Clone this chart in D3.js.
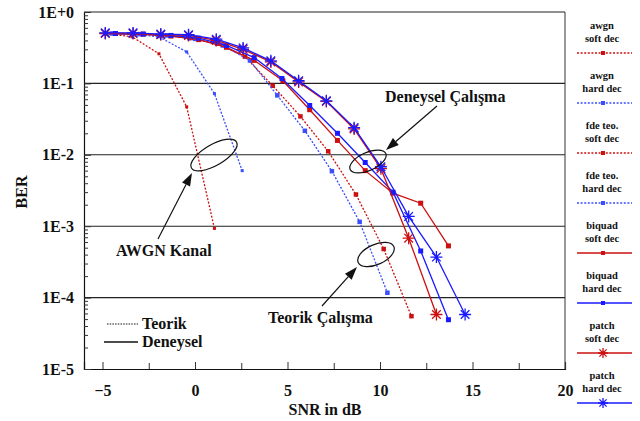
<!DOCTYPE html>
<html><head><meta charset="utf-8">
<script src="https://cdn.jsdelivr.net/npm/d3@7"></script>
<style>
body{margin:0;background:#fff}
svg text{font-family:"Liberation Serif","DejaVu Serif",serif !important;font-weight:bold;fill:#111}
</style>
</head><body><svg id="c" width="640" height="421"></svg>
<script>
// ---- data ----
const awgnSoftX = [-4.85, -3.4, -1.95, -0.45, 1.05];
const awgnSoftY = [0.5, 0.45, 0.26, 0.047, 0.00093];
const awgnHardX = [-4.85, -3.4, -1.95, -0.45, 1.05, 2.55];
const awgnHardY = [0.5, 0.49, 0.45, 0.276, 0.072, 0.006];
const fdeSoftX = [-4.8, -3.3, -1.8, -0.3, 1.2, 2.7, 4.2, 5.7, 7.2, 8.7, 10.2, 11.7];
const fdeSoftY = [0.5, 0.49, 0.47, 0.43, 0.36, 0.237, 0.0928, 0.0345, 0.0112, 0.00278, 0.000479, 0.0000549];
const fdeHardX = [-4.5, -3.0, -1.5, 0.0, 1.5, 2.97, 4.45, 5.94, 7.4, 8.9, 10.4];
const fdeHardY = [0.5, 0.49, 0.47, 0.42, 0.34, 0.209, 0.068, 0.0217, 0.0059, 0.00115, 0.000117];
const biquadSoftX = [-4.3, -2.8, -1.3, 0.2, 1.7, 3.2, 4.75, 6.2, 7.7, 9.2, 10.7, 12.2, 13.7];
const biquadSoftY = [0.5, 0.49, 0.46, 0.41, 0.32, 0.21, 0.109, 0.0428, 0.0159, 0.006, 0.0029, 0.0021, 0.00053];
const biquadHardX = [-4.3, -2.8, -1.3, 0.2, 1.7, 3.2, 4.7, 6.2, 7.7, 9.2, 10.7, 12.2, 13.7];
const biquadHardY = [0.5, 0.49, 0.47, 0.43, 0.34, 0.23, 0.117, 0.049, 0.02, 0.0078, 0.003, 0.00045, 0.000049];
const patchSoftX = [-4.85, -3.35, -1.85, -0.35, 1.15, 2.6, 4.1, 5.6, 7.1, 8.6, 10.05, 11.55, 13.05];
const patchSoftY = [0.5, 0.5, 0.48, 0.47, 0.40, 0.30, 0.2, 0.105, 0.056, 0.023, 0.0064, 0.00068, 0.000058];
const patchHardX = [-4.85, -3.35, -1.85, -0.35, 1.15, 2.6, 4.1, 5.6, 7.1, 8.6, 10.05, 11.55, 13.05, 14.6];
const patchHardY = [0.51, 0.51, 0.49, 0.48, 0.416, 0.314, 0.207, 0.109, 0.057, 0.024, 0.0068, 0.00137, 0.00037, 0.000058];

const xTicks = [-5, 0, 5, 10, 15, 20];
const yTicks = [1, 0.1, 0.01, 0.001, 0.0001, 0.00001];
const yTickLabels = ["1E+0", "1E-1", "1E-2", "1E-3", "1E-4", "1E-5"];
const legendNames = [["awgn","soft dec"],["awgn","hard dec"],["fde teo.","soft dec"],["fde teo.","hard dec"],
                     ["biquad","soft dec"],["biquad","hard dec"],["patch","soft dec"],["patch","hard dec"]];

const FONT = "'Liberation Serif','DejaVu Serif',serif";
const RED = "#cc1010", BLUE = "#1a1aff", LBLUE = "#3a4dff";
const series = [
  {x: awgnSoftX, y: awgnSoftY, color: RED, dash: "2,1.6", marker: "sq", ms: 3},
  {x: awgnHardX, y: awgnHardY, color: LBLUE, dash: "2,1.6", marker: "sq", ms: 3},
  {x: fdeSoftX, y: fdeSoftY, color: RED, dash: "2,1.6", marker: "sq", ms: 4.5},
  {x: fdeHardX, y: fdeHardY, color: LBLUE, dash: "2,1.6", marker: "sq", ms: 4.5},
  {x: biquadSoftX, y: biquadSoftY, color: RED, dash: null, marker: "sq", ms: 5},
  {x: biquadHardX, y: biquadHardY, color: BLUE, dash: null, marker: "sq", ms: 5},
  {x: patchSoftX, y: patchSoftY, color: RED, dash: null, marker: "star", ms: 6},
  {x: patchHardX, y: patchHardY, color: BLUE, dash: null, marker: "star", ms: 6}
];

const svg = d3.select("#c");
const x = d3.scaleLinear().domain([-6, 20]).range([84, 565]);
const y = d3.scaleLog().domain([1e-5, 1]).range([369, 12]);

// gridlines & frame
svg.append("g").selectAll("line").data(yTicks.slice(0, 5)).join("line")
  .attr("x1", x(-6)).attr("x2", x(20)).attr("y1", d => y(d)).attr("y2", d => y(d))
  .attr("stroke", "#222").attr("stroke-width", 1.1);
svg.append("line").attr("x1", x(20)).attr("x2", x(20)).attr("y1", y(1)).attr("y2", y(1e-5))
  .attr("stroke", "#333").attr("stroke-width", 1);

// axes
const xAxis = svg.append("g").attr("transform", `translate(0,${y(1e-5)})`)
  .call(d3.axisBottom(x).tickValues(xTicks).tickSize(-7).tickPadding(16).tickFormat(d3.format("d")));
svg.append("g").attr("transform", `translate(0,${y(1e-5)})`)
  .call(d3.axisBottom(x).tickValues([-2.5, 2.5, 7.5, 12.5, 17.5]).tickSize(-6).tickFormat(""))
  .select(".domain").remove();
const yAxis = svg.append("g").attr("transform", `translate(${x(-6)},0)`)
  .call(d3.axisLeft(y).tickValues(yTicks).tickSize(-7).tickPadding(10).tickFormat((d, i) => yTickLabels[i]));
const minor = [];
for (let e = -5; e < 0; e++) for (let m = 2; m <= 9; m++) minor.push(m * Math.pow(10, e));
svg.append("g").attr("transform", `translate(${x(-6)},0)`)
  .call(d3.axisLeft(y).tickValues(minor).tickSize(-4).tickFormat(""))
  .select(".domain").remove();
svg.selectAll("g").attr("font-family", FONT);
svg.selectAll(".domain").attr("stroke", "#111").attr("stroke-width", 1.2);
svg.selectAll(".tick line").attr("stroke", "#333");
xAxis.selectAll("text").attr("font-size", 16).attr("font-weight", "bold").attr("fill", "#111");
yAxis.selectAll("text").attr("font-size", 16).attr("font-weight", "bold").attr("fill", "#111");

function label(xp, yp, str, size, anchor) {
  return svg.append("text").attr("x", xp).attr("y", yp).attr("font-family", FONT).attr("font-weight", "bold")
    .attr("font-size", size).attr("text-anchor", anchor || "start").text(str);
}
label(325, 415, "SNR in dB", 16, "middle");
svg.append("text").attr("transform", "translate(27,192) rotate(-90)").attr("text-anchor", "middle")
  .attr("font-family", FONT).attr("font-weight", "bold").attr("font-size", 16).text("BER");

// series
const line = d3.line().x(d => x(d[0])).y(d => y(d[1]));
function drawMarker(g, type, cx, cy, s, color) {
  if (type === "sq") {
    g.append("rect").attr("x", cx - s / 2).attr("y", cy - s / 2).attr("width", s).attr("height", s).attr("fill", color);
  } else {
    const d = s * 0.72;
    g.append("path").attr("d", `M${cx},${cy - s}L${cx},${cy + s}M${cx - s},${cy}L${cx + s},${cy}M${cx - d},${cy - d}L${cx + d},${cy + d}M${cx - d},${cy + d}L${cx + d},${cy - d}`)
      .attr("stroke", color).attr("stroke-width", 1.3).attr("fill", "none");
  }
}
const plot = svg.append("g");
series.forEach(s => {
  const pts = s.x.map((v, i) => [v, s.y[i]]);
  const g = plot.append("g");
  g.append("path").attr("d", line(pts)).attr("fill", "none").attr("stroke", s.color)
    .attr("stroke-width", 1.3).attr("stroke-dasharray", s.dash);
  pts.forEach(p => drawMarker(g, s.marker, x(p[0]), y(p[1]), s.ms, s.color));
});

// annotations
function arrow(x1, y1, x2, y2) {
  const ang = Math.atan2(y2 - y1, x2 - x1), L = 13, W = 4.5;
  const bx = x2 - L * Math.cos(ang), by = y2 - L * Math.sin(ang);
  svg.append("line").attr("x1", x1).attr("y1", y1).attr("x2", bx).attr("y2", by).attr("stroke", "#111").attr("stroke-width", 1.2);
  const px = -Math.sin(ang) * W, py = Math.cos(ang) * W;
  svg.append("path").attr("d", `M${x2},${y2}L${bx + px},${by + py}L${bx - px},${by - py}Z`).attr("fill", "#111");
}
function ell(cx, cy, rx, ry, rot) {
  svg.append("ellipse").attr("cx", cx).attr("cy", cy).attr("rx", rx).attr("ry", ry)
    .attr("transform", `rotate(${rot},${cx},${cy})`).attr("fill", "none").attr("stroke", "#111").attr("stroke-width", 1.2);
}
label(385, 102, "Deneysel Çalışma", 16);
ell(368, 161.5, 19.5, 9, -24);
arrow(437, 106, 386, 150);
label(116, 256, "AWGN Kanal", 16);
ell(214, 155, 26, 10.5, -30);
arrow(158, 239, 192, 173);
label(268, 323, "Teorik Çalışma", 16);
ell(376, 254.5, 19.5, 10, -24);
arrow(322, 306, 357, 267);

// inner legend
svg.append("line").attr("x1", 107).attr("x2", 138).attr("y1", 324).attr("y2", 324).attr("stroke", "#111").attr("stroke-width", 1).attr("stroke-dasharray", "1.5,1.2");
label(142, 329, "Teorik", 16);
svg.append("line").attr("x1", 104).attr("x2", 138).attr("y1", 342).attr("y2", 342).attr("stroke", "#111").attr("stroke-width", 1.3);
label(142, 347, "Deneysel", 16);

// right legend
series.forEach((s, i) => {
  const cy = 25 + 50 * i;
  label(602, cy + 4, legendNames[i][0], 10.5, "middle");
  label(602, cy + 17, legendNames[i][1], 10.5, "middle");
  const g = svg.append("g");
  g.append("line").attr("x1", 577).attr("x2", 632).attr("y1", cy + 28).attr("y2", cy + 28)
    .attr("stroke", s.color).attr("stroke-width", 1.3).attr("stroke-dasharray", s.dash);
  drawMarker(g, s.marker, 603, cy + 28, s.marker === "star" ? 5 : 4, s.color);
});
</script></body></html>
